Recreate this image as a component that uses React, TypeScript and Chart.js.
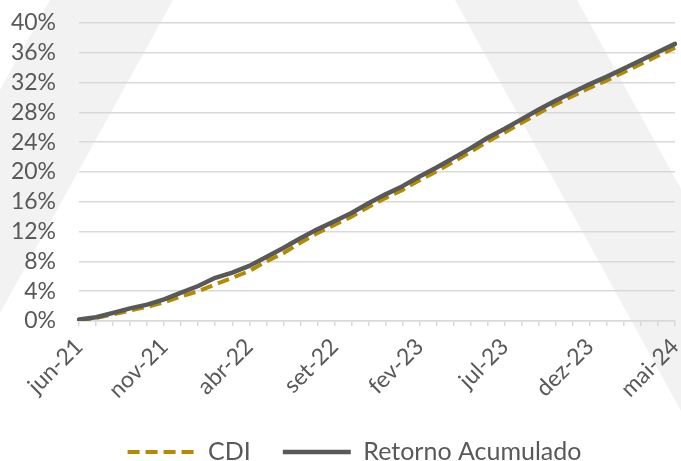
import React, { useEffect, useRef } from "react";
import { Chart, registerables } from "chart.js";

Chart.register(...registerables);

const months = [
  "jun-21", "jul-21", "ago-21", "set-21", "out-21", "nov-21", "dez-21",
  "jan-22", "fev-22", "mar-22", "abr-22", "mai-22", "jun-22", "jul-22", "ago-22", "set-22", "out-22", "nov-22", "dez-22",
  "jan-23", "fev-23", "mar-23", "abr-23", "mai-23", "jun-23", "jul-23", "ago-23", "set-23", "out-23", "nov-23", "dez-23",
  "jan-24", "fev-24", "mar-24", "abr-24", "mai-24",
];

const cdi = [
  0.1, 0.4, 0.9, 1.4, 1.9, 2.5, 3.3, 4.0, 4.9, 5.8, 6.7, 8.0, 9.1, 10.5, 11.8, 12.9,
  14.0, 15.3, 16.5, 17.6, 18.9, 20.1, 21.4, 22.7, 24.1, 25.3, 26.6, 27.9, 29.1, 30.2,
  31.3, 32.3, 33.4, 34.5, 35.6, 36.7,
];

const retorno = [
  0.2, 0.5, 1.1, 1.7, 2.2, 2.9, 3.8, 4.7, 5.8, 6.5, 7.4, 8.6, 9.8, 11.1, 12.3, 13.4,
  14.5, 15.8, 17.0, 18.1, 19.4, 20.6, 21.9, 23.2, 24.6, 25.8, 27.1, 28.4, 29.6, 30.7,
  31.8, 32.8, 33.9, 35.0, 36.1, 37.2,
];

const seriesNames = ["Retorno Acumulado", "CDI"];
const yMin = 0;
const yMax = 40;
const yStep = 4;
const labelEvery = 5;

const FONT = "Lato";
const TEXT = "#595959";
const GRID = "#D9D9D9";
const GOLD = "#B38B00";
const DARK = "#595959";

export default function App() {
  const ref = useRef<HTMLCanvasElement>(null);

  useEffect(() => {
    if (!ref.current) return;

    const watermark = {
      id: "watermark",
      beforeDraw(chart: any) {
        const { ctx, width: w } = chart;
        ctx.save();
        ctx.fillStyle = "#ffffff";
        ctx.fillRect(0, 0, chart.width, chart.height);
        ctx.fillStyle = "#F2F2F2";
        ctx.beginPath();
        ctx.moveTo(50, 0);
        ctx.lineTo(173, 0);
        ctx.lineTo(0, 313);
        ctx.lineTo(0, 90);
        ctx.closePath();
        ctx.fill();
        ctx.beginPath();
        ctx.moveTo(455, 0);
        ctx.lineTo(577, 0);
        ctx.lineTo(w, 189);
        ctx.lineTo(w, 411);
        ctx.closePath();
        ctx.fill();
        ctx.restore();
      },
    };

    const legendShift = {
      id: "legendShift",
      afterLayout(chart: any) {
        const l = chart.legend;
        if (l) {
          l.top += 13.5;
          l.bottom += 13.5;
          l.left += 17;
          l.right += 17;
        }
        const x = chart.scales.x;
        if (x) x.bottom = chart.height;
      },
    };

    const chart = new Chart(ref.current, {
      type: "line",
      data: {
        labels: months,
        datasets: [
          {
            label: seriesNames[0],
            data: retorno,
            borderColor: DARK,
            backgroundColor: DARK,
            borderWidth: 4.5,
            pointRadius: 0,
            borderCapStyle: "round",
            borderJoinStyle: "round",
            tension: 0,
          },
          {
            label: seriesNames[1],
            data: cdi,
            borderColor: GOLD,
            backgroundColor: GOLD,
            borderWidth: 4,
            borderDash: [12, 6],
            pointRadius: 0,
            borderCapStyle: "butt",
            tension: 0,
          },
        ],
      },
      options: {
        animation: false,
        responsive: false,
        devicePixelRatio: 1,
        layout: { padding: { top: 23, right: 6, left: 0, bottom: 0 } },
        plugins: {
          tooltip: { enabled: false },
          legend: {
            position: "bottom",
            reverse: true,
            labels: {
              usePointStyle: true,
              pointStyle: "line",
              pointStyleWidth: 68,
              padding: 32,
              color: TEXT,
              font: { family: FONT, size: 25 },
              generateLabels: (c: any) =>
                (Chart as any).defaults.plugins.legend.labels.generateLabels(c).map((it: any) => {
                  const ds: any = c.data.datasets[it.datasetIndex];
                  return {
                    ...it,
                    lineDash: ds.borderDash || [],
                    lineWidth: ds.borderWidth,
                    strokeStyle: ds.borderColor,
                    fillStyle: ds.borderColor,
                    lineCap: "butt",
                  };
                }),
            },
          },
        },
        scales: {
          x: {
            grid: {
              drawOnChartArea: false,
              drawTicks: true,
              tickLength: 5,
              color: GRID,
              lineWidth: 1.5,
            },
            border: { display: true, color: GRID, width: 1.5 },
            ticks: {
              autoSkip: false,
              maxRotation: 45,
              minRotation: 45,
              padding: 7,
              color: TEXT,
              font: { family: FONT, size: 23 },
              callback: (_v: any, i: number) => (i % labelEvery === 0 ? months[i] : ""),
            },
            afterFit: (s: any) => {
              s.height = 73;
              s.paddingLeft = 0;
              s.paddingRight = 0;
            },
          },
          y: {
            min: yMin,
            max: yMax,
            grid: { color: GRID, lineWidth: 1.5, drawTicks: false },
            border: { display: false },
            ticks: {
              stepSize: yStep,
              autoSkip: false,
              padding: 23,
              color: TEXT,
              font: { family: FONT, size: 23 },
              callback: (v: any) => `${v}%`,
            },
            afterFit: (s: any) => {
              s.width = 79;
              s.paddingTop = 0;
              s.paddingBottom = 0;
            },
          },
        },
      },
      plugins: [watermark, legendShift],
    });

    return () => chart.destroy();
  }, []);

  return (
    <div style={{ position: "fixed", left: 0, top: 0, width: 681, height: 461 }}>
      <canvas ref={ref} width={681} height={461} />
    </div>
  );
}
